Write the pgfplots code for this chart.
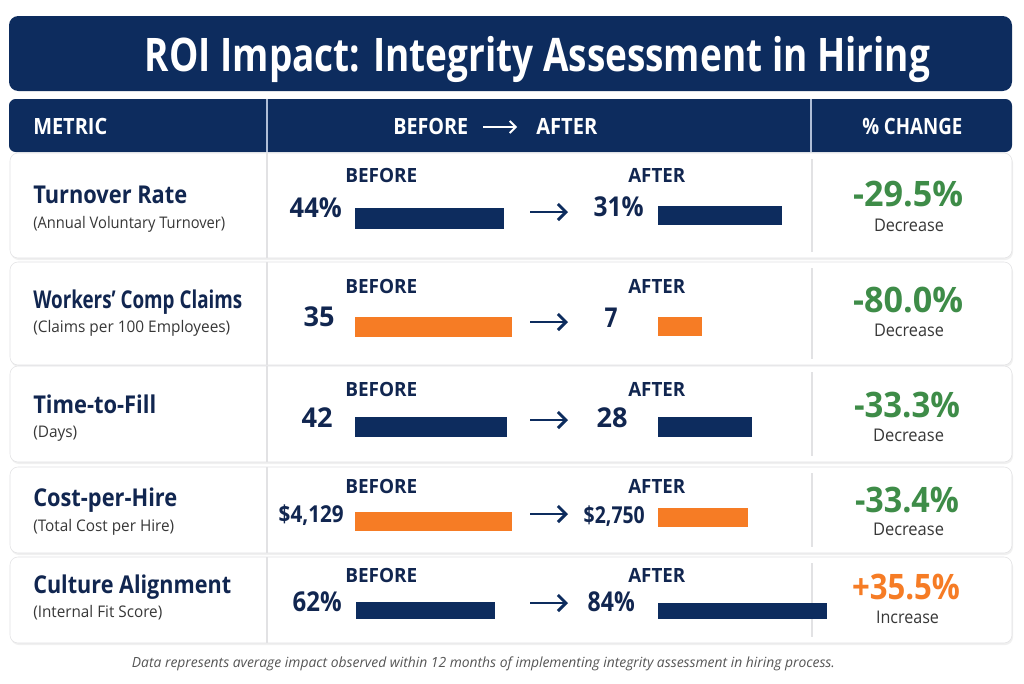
\documentclass[border=0pt]{standalone}
\usepackage{pgfplots}
\pgfplotsset{compat=1.18}
\usepackage{graphicx}
\usepackage{fontspec}
\setmainfont{Open Sans}
\usetikzlibrary{arrows.meta}

\definecolor{navy}{RGB}{13,44,94}
\definecolor{navytext}{RGB}{17,38,80}
\definecolor{accent}{RGB}{246,124,37}
\definecolor{good}{RGB}{62,140,72}
\definecolor{subtext}{RGB}{55,55,55}
\definecolor{foot}{RGB}{85,85,85}
\definecolor{rule}{RGB}{226,226,228}
\definecolor{hdrrule}{RGB}{175,190,215}

% one layout pixel
\newlength\px \setlength\px{0.75pt}

% text: anchor, x, baseline y, font size (pt), set width (px), colour, content
\newcommand\txt[7]{\node[anchor=#1,inner sep=0pt,text=#6] at (#2,#3)
  {\fontsize{#4pt}{#4pt}\selectfont\resizebox{#5\px}{\height}{#7}};}

% one value bar: left x, top y, thickness, length (px), value, colour
\newcommand\valbar[6]{%
  \begin{axis}[at={(#1*0.75pt,-#2*0.75pt)}, anchor=north west,
      scale only axis, width=#4*0.75pt, height=#3*0.75pt, hide axis,
      xmin=0, xmax=#5, ymin=-0.5, ymax=0.5, clip=false]
    \addplot[xbar, bar width=#3*0.75pt, fill=#6, draw=none] coordinates {(#5,0)};
  \end{axis}}

% before/after arrow
\newcommand\flow[1]{\draw[navy, line width=2.2pt, -{Straight Barb[length=6pt,width=12pt]}] (530,#1) -- (568,#1);}

\begin{document}
\begin{tikzpicture}
\begin{scope}[x=0.75pt,y=-0.75pt]
  \fill[white] (0,0) rectangle (1024,683);
  \path[use as bounding box] (0,0) rectangle (1024,683);

  % title banner
  \fill[navy, rounded corners=7pt] (9,16) rectangle (1012,91);
  \txt{base}{537.5}{71}{34.7}{785}{white}{\bfseries ROI Impact: Integrity Assessment in Hiring}

  % header row
  \fill[navy, rounded corners=5pt] (9,99) rectangle (1012,152);
  \draw[hdrrule, line width=0.8pt] (267,99) -- (267,152) (811,99) -- (811,152);
  \txt{base west}{33}{134}{16.8}{74}{white}{\bfseries METRIC}
  \txt{base west}{393}{134}{16.8}{75}{white}{\bfseries BEFORE}
  \draw[white, line width=1.4pt, -{Straight Barb[length=4.5pt,width=9pt]}] (483,127) -- (517,127);
  \txt{base west}{536}{134}{16.8}{61}{white}{\bfseries AFTER}
  \txt{base west}{862}{134}{16.8}{100}{white}{\bfseries \% CHANGE}

  % row frames
  \foreach \ya/\yb in {153/258, 262/365, 366/462, 467/553, 557/643}{
    \fill[black!6, rounded corners=6pt] (11,\ya+2) rectangle (1013,\yb+2);
    \draw[rule, fill=white, rounded corners=6pt] (10,\ya) rectangle (1012,\yb);
    \draw[rule, line width=0.8pt] (267,\ya) -- (267,\yb);
    \draw[rule, line width=0.8pt] (812,\ya+6) -- (812,\yb-6);
  }

  % row 1
  \txt{base west}{33}{203}{18.4}{154}{navytext}{\bfseries Turnover Rate}
  \txt{base west}{33}{228}{12}{192}{subtext}{(Annual Voluntary Turnover)}
  \txt{base west}{345}{182}{14.7}{72}{navytext}{\bfseries BEFORE}
  \txt{base west}{628}{182}{14.7}{57}{navytext}{\bfseries AFTER}
  \txt{base east}{342}{217}{20.5}{52}{navytext}{\bfseries 44\%}
  \txt{base east}{644}{216}{20.5}{50}{navytext}{\bfseries 31\%}
  \flow{212}
  \txt{base}{908}{206}{26.3}{110}{good}{\bfseries -29.5\%}
  \txt{base}{909}{231}{13.1}{70}{subtext}{Decrease}

  % row 2
  \txt{base west}{33}{308}{18.4}{209}{navytext}{\bfseries Workers’ Comp Claims}
  \txt{base west}{33}{332}{12}{197}{subtext}{(Claims per 100 Employees)}
  \txt{base west}{345}{293}{14.7}{72}{navytext}{\bfseries BEFORE}
  \txt{base west}{628}{293}{14.7}{57}{navytext}{\bfseries AFTER}
  \txt{base east}{335}{326}{20.5}{31}{navytext}{\bfseries 35}
  \txt{base east}{618}{327}{20.5}{13}{navytext}{\bfseries 7}
  \flow{322}
  \txt{base}{908}{312}{26.3}{110}{good}{\bfseries -80.0\%}
  \txt{base}{909}{336}{13.1}{70}{subtext}{Decrease}

  % row 3
  \txt{base west}{33}{413}{18.4}{123}{navytext}{\bfseries Time-to-Fill}
  \txt{base west}{33}{437}{12}{44}{subtext}{(Days)}
  \txt{base west}{345}{396}{14.7}{72}{navytext}{\bfseries BEFORE}
  \txt{base west}{628}{396}{14.7}{57}{navytext}{\bfseries AFTER}
  \txt{base east}{333}{427}{20.5}{31}{navytext}{\bfseries 42}
  \txt{base east}{628}{427}{20.5}{31}{navytext}{\bfseries 28}
  \flow{420}
  \txt{base}{907}{417}{26.3}{106}{good}{\bfseries -33.3\%}
  \txt{base}{908.5}{441}{13.1}{71}{subtext}{Decrease}

  % row 4
  \txt{base west}{33}{506}{18.4}{144}{navytext}{\bfseries Cost-per-Hire}
  \txt{base west}{33}{531}{12}{141}{subtext}{(Total Cost per Hire)}
  \txt{base west}{345}{493}{14.7}{72}{navytext}{\bfseries BEFORE}
  \txt{base west}{628}{493}{14.7}{57}{navytext}{\bfseries AFTER}
  \txt{base east}{344}{522}{17.5}{65}{navytext}{\bfseries \$4,129}
  \txt{base east}{645}{523}{17.5}{61}{navytext}{\bfseries \$2,750}
  \flow{514}
  \txt{base}{907}{512}{26.3}{104}{good}{\bfseries -33.4\%}
  \txt{base}{908.5}{535}{13.1}{71}{subtext}{Decrease}

  % row 5
  \txt{base west}{33}{593}{18.4}{198}{navytext}{\bfseries Culture Alignment}
  \txt{base west}{33}{617}{12}{129}{subtext}{(Internal Fit Score)}
  \txt{base west}{345}{582}{14.7}{72}{navytext}{\bfseries BEFORE}
  \txt{base west}{628}{582}{14.7}{57}{navytext}{\bfseries AFTER}
  \txt{base east}{342}{611}{20.5}{49}{navytext}{\bfseries 62\%}
  \txt{base east}{635}{611}{20.5}{47}{navytext}{\bfseries 84\%}
  \flow{603}
  \txt{base}{906}{599}{26.3}{108}{accent}{\bfseries +35.5\%}
  \txt{base}{907.5}{623}{13.1}{63}{subtext}{Increase}

  % footnote
  \txt{base}{483.5}{667}{10.5}{703}{foot}{\itshape Data represents average impact observed within 12 months of implementing integrity assessment in hiring process.}
\end{scope}

% value bars (before / after)
\valbar{355}{208}{21}{149}{44}{navy}
\valbar{658}{206}{19}{124}{31}{navy}
\valbar{355}{317}{20}{157}{35}{accent}
\valbar{658}{317}{19}{44}{7}{accent}
\valbar{355}{417}{20}{152}{42}{navy}
\valbar{658}{417}{20}{94}{28}{navy}
\valbar{355}{512}{19}{157}{4129}{accent}
\valbar{658}{508}{19}{90}{2750}{accent}
\valbar{356}{602}{17}{139}{62}{navy}
\valbar{658}{603}{16}{169}{84}{navy}
\end{tikzpicture}
\end{document}
